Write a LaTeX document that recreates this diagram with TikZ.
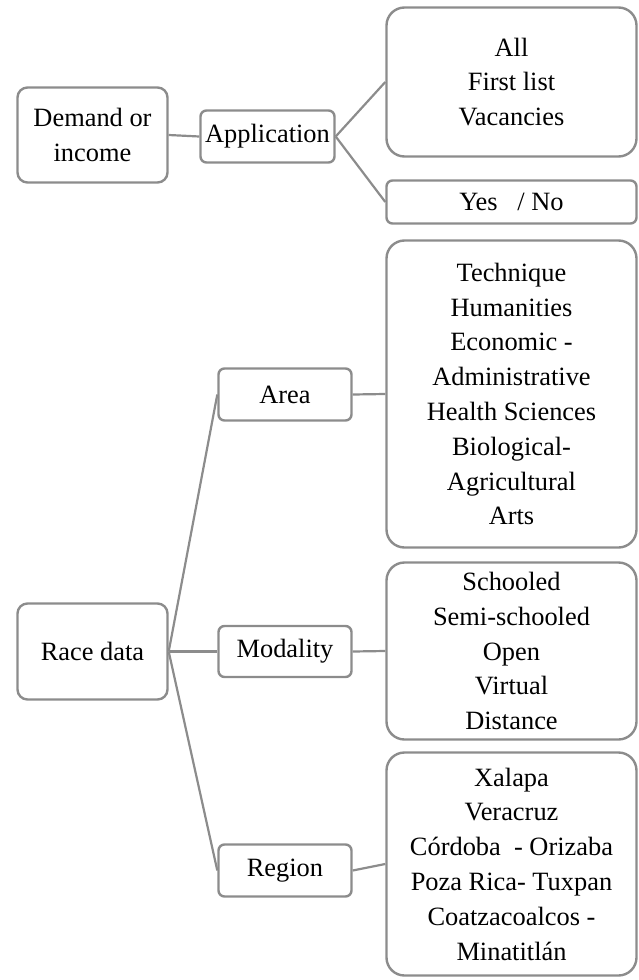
\documentclass[tikz,border=0pt]{standalone}
\usepackage{fontspec}
\setmainfont{Liberation Serif}
\usepackage{tikz}
\definecolor{boxgray}{RGB}{140,140,140}

\begin{document}
\begin{tikzpicture}[x = 1pt, y = -1pt, line width = 2.4pt,
                    small/.style = {rectangle, draw = boxgray, rounded corners = 6pt, align = center, inner sep = 0pt,
                                    font = \fontsize{26.4}{34.8}\selectfont},
                    big/.style = {small, rounded corners = 18pt},
                    link/.style = {draw = boxgray, line width = 2.2pt}]
  \useasboundingbox (0, 0) rectangle (638, 980);
  \node [small, rounded corners = 10pt, minimum width = 150pt, minimum height = 95pt] (Dem) at (92.5, 135) {Demand or\\income};
  \node [small, minimum width = 134pt, minimum height = 52pt] (App) at (267.5, 136.5) {Application};
  \node [big, minimum width = 250pt, minimum height = 149pt] (Lst) at (511.5, 82) {All\\First list\\Vacancies};
  \node [small, minimum width = 250pt, minimum height = 43pt] (Yes) at (511.5, 202) {Yes\ \ \ / No};
  \node [small, rounded corners = 10pt, minimum width = 150pt, minimum height = 96pt] (Race) at (92.5, 651.5) {Race data};
  \node [small, minimum width = 133pt, minimum height = 52pt] (Area) at (285, 394.5) {Area};
  \node [small, minimum width = 133pt, minimum height = 51pt] (Mod) at (285, 651.5) {Modality};
  \node [small, minimum width = 133pt, minimum height = 52pt] (Reg) at (285, 870.5) {Region};
  \node [big, minimum width = 250pt, minimum height = 307pt] (AreaL) at (511.5, 394) {Technique\\Humanities\\Economic -\\Administrative\\Health Sciences\\Biological-\\Agricultural\\Arts};
  \node [big, minimum width = 250pt, minimum height = 177pt] (ModL) at (511.5, 651) {Schooled\\Semi-schooled\\Open\\Virtual\\Distance};
  \node [big, minimum width = 250pt, minimum height = 223pt] (RegL) at (511.5, 864) {Xalapa\\Veracruz\\Córdoba\ \ - Orizaba\\Poza Rica- Tuxpan\\Coatzacoalcos -\\Minatitlán};
  \draw [link] (Dem.east) -- (App.west);
  \draw [link] (App.east) -- (Lst.west);
  \draw [link] (App.east) -- (Yes.west);
  \draw [link] (Race.east) -- (Area.west);
  \draw [link] (Race.east) -- (Mod.west);
  \draw [link] (Race.east) -- (Reg.west);
  \draw [link] (Area.east) -- (AreaL.west);
  \draw [link] (Mod.east) -- (ModL.west);
  \draw [link] (Reg.east) -- (RegL.west);
\end{tikzpicture}
\end{document}
